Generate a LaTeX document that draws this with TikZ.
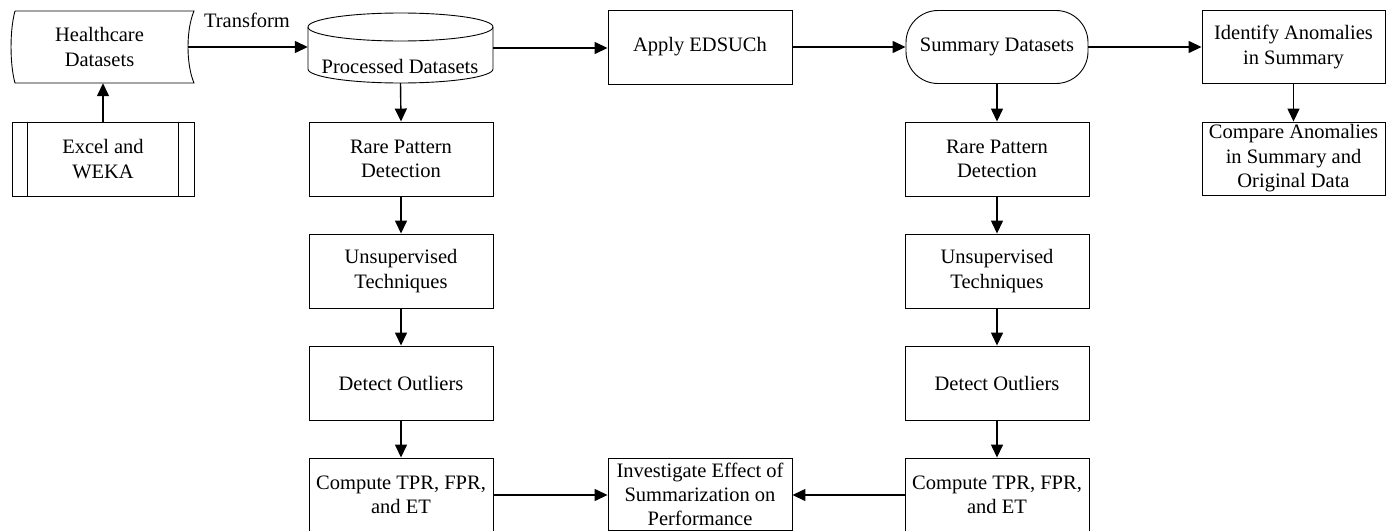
\documentclass[tikz,border=0pt]{standalone}
\usepackage{fontspec}
\setmainfont{Liberation Serif}
\usetikzlibrary{arrows.meta}
\begin{document}
\begin{tikzpicture}[x=1pt,y=1pt,
  txt/.style={font={\fontsize{20.5}{24.5}\selectfont}, align=center, inner sep=0pt},
  box/.style={txt, draw, line width=0.9pt, minimum width=184pt, minimum height=74pt},
  arr/.style={line width=1.4pt, -{Triangle[length=13pt,width=12pt]}}
]
\useasboundingbox (0,0) rectangle (1397,-530);
\clip (0,0) rectangle (1397,-530);

% Healthcare datasets (stored data)
\node[txt, minimum width=177pt, minimum height=72pt] (hc) at (99.5,-47) {Healthcare\\Datasets};
\draw[line width=0.9pt] (15,-11) -- (194,-11) .. controls (186,-30) and (186,-64) .. (194,-83)
  -- (15,-83) .. controls (9.7,-64) and (9.7,-30) .. (15,-11);

% Excel and WEKA (predefined process)
\node[box, minimum width=182pt] (ex) at (103,-159) {Excel and\\WEKA};
\draw[line width=0.9pt] ([xshift=16pt]ex.north west) -- ([xshift=16pt]ex.south west);
\draw[line width=0.9pt] ([xshift=-16pt]ex.north east) -- ([xshift=-16pt]ex.south east);

% Processed datasets (cylinder)
\node[txt, minimum width=185pt, minimum height=70pt] (pd) at (400.5,-48) {};
\draw[line width=0.9pt] (308,-27) -- (308,-69) arc[start angle=180, end angle=360, x radius=92.5, y radius=14] -- (493,-27);
\draw[line width=0.9pt] (400.5,-27) ellipse[x radius=92.5, y radius=14];
\node[txt] (pdt) at (400,-66) {Processed Datasets};

\node[txt] (tf) at (247,-20) {Transform};

\node[box] (ap) at (700,-47) {Apply EDSUCh};
\node[box, minimum width=182pt, minimum height=73pt, rounded corners=32pt] (sm) at (997,-47) {Summary Datasets};
\node[box, minimum width=183pt, minimum height=73pt] (id) at (1293.5,-47) {Identify Anomalies\\in Summary};
\node[box, minimum width=183pt, minimum height=73pt] (cp) at (1293.5,-158.5) {Compare Anomalies\\in Summary and\\Original Data};

% left column
\node[box] (rL) at (401,-159) {Rare Pattern\\Detection};
\node[box] (uL) at (401,-271) {Unsupervised\\Techniques};
\node[box] (dL) at (401,-383) {Detect Outliers};
\node[box] (cL) at (401,-495) {Compute TPR, FPR,\\and ET};

% right column
\node[box] (rR) at (997,-159) {Rare Pattern\\Detection};
\node[box] (uR) at (997,-271) {Unsupervised\\Techniques};
\node[box] (dR) at (997,-383) {Detect Outliers};
\node[box] (cR) at (997,-495) {Compute TPR, FPR,\\and ET};

\node[box, minimum height=72pt, font={\fontsize{20.5}{24}\selectfont}] (iv) at (700,-494) {Investigate Effect of\\Summarization on\\Performance};

% connectors
\draw[arr] (ex.north) -- (ex.north |- hc.south);
\draw[arr] (hc.east) -- (hc.east -| pd.west);
\draw[arr] (pd.east) -- (pd.east -| ap.west);
\draw[arr] (ap.east) -- (ap.east -| sm.west);
\draw[arr] (sm.east) -- (sm.east -| id.west);
\draw[arr] (id.south) -- (cp.north);

\draw[arr] (pd.south) -- (rL.north);
\draw[arr] (rL) -- (uL);
\draw[arr] (uL) -- (dL);
\draw[arr] (dL) -- (cL);

\draw[arr] (sm.south) -- (rR.north);
\draw[arr] (rR) -- (uR);
\draw[arr] (uR) -- (dR);
\draw[arr] (dR) -- (cR);

\draw[arr] (cL.east) -- (cL.east -| iv.west);
\draw[arr] (cR.west) -- (cR.west -| iv.east);
\end{tikzpicture}
\end{document}
